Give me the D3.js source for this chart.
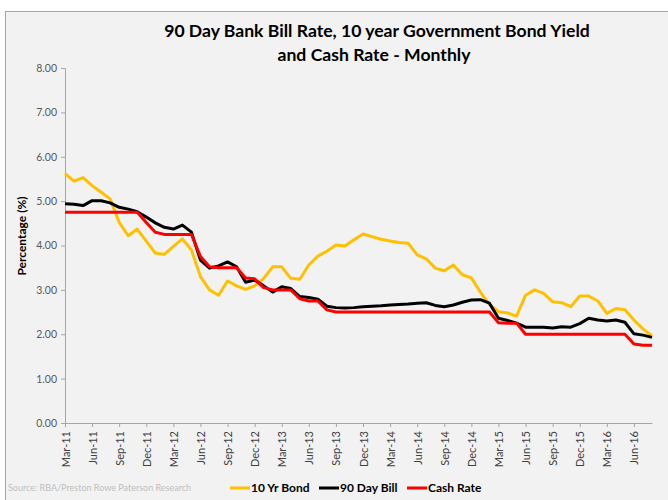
<!DOCTYPE html>
<html>
<head>
<meta charset="utf-8">
<script src="https://cdn.jsdelivr.net/npm/d3@7"></script>
<style>
  html, body { margin: 0; padding: 0; background: #fff; }
  svg { display: block; font-family: Lato, "Open Sans", sans-serif; }
</style>
</head>
<body>
<svg id="chart" width="668" height="500"></svg>
<script>
// monthly categories, Mar-11 .. Aug-16
const months = d3.timeMonth.range(new Date(2011, 2, 1), new Date(2016, 8, 1));

const bond10 = [
  5.62, 5.45, 5.53, 5.35, 5.20, 5.05, 4.52, 4.22, 4.37, 4.10, 3.83, 3.80,
  3.98, 4.15, 3.90, 3.30, 3.00, 2.88, 3.20, 3.09, 3.01, 3.09, 3.26, 3.52,
  3.52, 3.26, 3.24, 3.56, 3.76, 3.87, 4.01, 3.99, 4.13, 4.26, 4.20, 4.14,
  4.10, 4.07, 4.05, 3.79, 3.70, 3.49, 3.43, 3.56, 3.34, 3.27, 2.95, 2.67,
  2.51, 2.48, 2.41, 2.88, 3.00, 2.92, 2.73, 2.71, 2.62, 2.86, 2.86, 2.75,
  2.47, 2.58, 2.55, 2.32, 2.12, 1.96
];

const bill90 = [
  4.94, 4.93, 4.90, 5.01, 5.01, 4.96, 4.86, 4.82, 4.76, 4.64, 4.51, 4.41,
  4.37, 4.46, 4.30, 3.67, 3.49, 3.54, 3.63, 3.52, 3.17, 3.22, 3.09, 2.95,
  3.07, 3.03, 2.85, 2.83, 2.79, 2.63, 2.60, 2.59, 2.60, 2.62, 2.63, 2.64,
  2.66, 2.67, 2.68, 2.70, 2.71, 2.65, 2.62, 2.66, 2.72, 2.77, 2.78, 2.70,
  2.36, 2.31, 2.25, 2.16, 2.16, 2.16, 2.14, 2.17, 2.16, 2.24, 2.36, 2.32,
  2.30, 2.32, 2.27, 2.01, 1.98, 1.93
];

const cashRate = [
  4.75, 4.75, 4.75, 4.75, 4.75, 4.75, 4.75, 4.75, 4.75, 4.52, 4.30, 4.25,
  4.25, 4.25, 4.25, 3.75, 3.52, 3.50, 3.50, 3.50, 3.27, 3.25, 3.05, 3.00,
  3.00, 3.00, 2.80, 2.75, 2.75, 2.55, 2.50, 2.50, 2.50, 2.50, 2.50, 2.50,
  2.50, 2.50, 2.50, 2.50, 2.50, 2.50, 2.50, 2.50, 2.50, 2.50, 2.50, 2.50,
  2.26, 2.25, 2.25, 2.00, 2.00, 2.00, 2.00, 2.00, 2.00, 2.00, 2.00, 2.00,
  2.00, 2.00, 2.00, 1.78, 1.75, 1.75
];

const yTicks = [0, 1, 2, 3, 4, 5, 6, 7, 8];

const series = [
  { name: "10 Yr Bond", values: bond10, color: "#FFC000" },
  { name: "90 Day Bill", values: bill90, color: "#000000" },
  { name: "Cash Rate", values: cashRate, color: "#FF0000" }
];

const svg = d3.select("#chart");

// chart frame
svg.append("rect")
  .attr("x", 5.5).attr("y", 11.5)
  .attr("width", 700).attr("height", 600)
  .attr("fill", "#f2f2f2")
  .attr("stroke", "#a6a6a6");

const x = d3.scalePoint().domain(months).range([65, 652]);
const y = d3.scaleLinear().domain([0, 8]).range([423, 68]);

// title
const title = svg.append("text")
  .attr("text-anchor", "middle")
  .attr("font-size", 17.6)
  .attr("font-weight", "bold")
  .attr("fill", "#000");
title.append("tspan").attr("x", 377).attr("y", 37)
  .text("90 Day Bank Bill Rate, 10 year Government Bond Yield");
title.append("tspan").attr("x", 374).attr("y", 61)
  .text("and Cash Rate - Monthly");

// y axis
const yAxis = svg.append("g")
  .attr("transform", "translate(65,0)")
  .call(d3.axisLeft(y).tickValues(yTicks).tickFormat(d3.format(".2f")).tickSize(4).tickPadding(4));
yAxis.select(".domain").attr("stroke", "#a6a6a6");
yAxis.selectAll(".tick line").attr("stroke", "#a6a6a6");
yAxis.selectAll(".tick text")
  .attr("font-size", 10.5)
  .attr("font-family", "Lato, sans-serif")
  .attr("fill", "#595959");

svg.append("text")
  .attr("transform", "translate(26,236) rotate(-90)")
  .attr("text-anchor", "middle")
  .attr("font-size", 12)
  .attr("font-weight", "bold")
  .text("Percentage (%)");

// x axis, quarterly labels
const qMonths = months.filter((d, i) => i % 3 === 0);
const xAxis = svg.append("g")
  .attr("transform", "translate(0,423)")
  .call(d3.axisBottom(x).tickValues(qMonths).tickFormat(d3.timeFormat("%b-%y")).tickSize(4).tickSizeOuter(0));
xAxis.select(".domain").attr("stroke", "#a6a6a6");
xAxis.selectAll(".tick line").attr("stroke", "#a6a6a6");
xAxis.selectAll(".tick text")
  .attr("font-size", 11)
  .attr("font-family", "Lato, sans-serif")
  .attr("fill", "#404040")
  .attr("text-anchor", "end")
  .attr("dy", null)
  .attr("transform", "translate(4,8) rotate(-90)")
  .attr("x", 0).attr("y", 0);

// lines
const line = d3.line()
  .x((d, i) => x(months[i]))
  .y(d => y(d));

svg.append("g").selectAll("path")
  .data(series)
  .join("path")
  .attr("d", d => line(d.values))
  .attr("fill", "none")
  .attr("stroke", d => d.color)
  .attr("stroke-width", 3)
  .attr("stroke-linejoin", "round");

// legend
const legendX = [230, 319, 407];
const legend = svg.append("g").selectAll("g")
  .data(series)
  .join("g")
  .attr("transform", (d, i) => `translate(${legendX[i]},488)`);
legend.append("line")
  .attr("x1", 0).attr("x2", 20)
  .attr("stroke", d => d.color)
  .attr("stroke-width", 3);
legend.append("text")
  .attr("x", 21).attr("dy", "0.35em")
  .attr("font-size", 12)
  .attr("font-weight", "bold")
  .text(d => d.name);

// source note
svg.append("text")
  .attr("x", 8).attr("y", 491)
  .attr("font-size", 9)
  .attr("fill", "#bfbfbf")
  .text("Source: RBA/Preston Rowe Paterson Research");
</script>
</body>
</html>
